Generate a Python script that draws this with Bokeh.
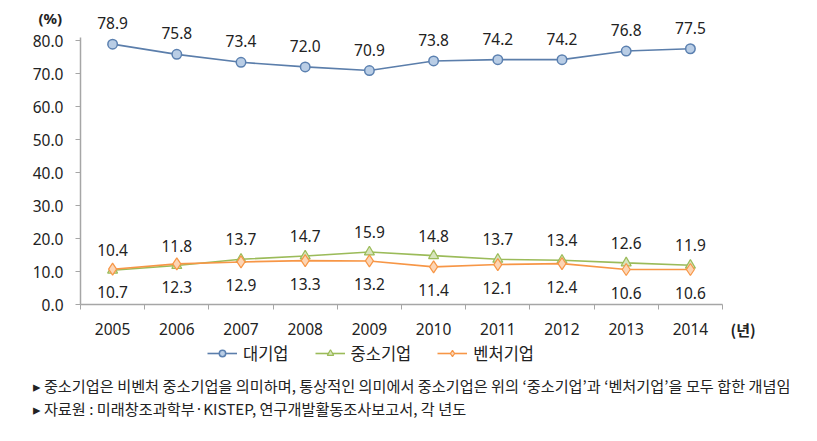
from bokeh.plotting import figure
from bokeh.models import (ColumnDataSource, LabelSet, Label, Legend, LegendItem,
                          FixedTicker, Range1d, PrintfTickFormatter, LinearAxis)
from bokeh.core.properties import value
from bokeh.embed import file_html
from bokeh.resources import INLINE

years = [2005, 2006, 2007, 2008, 2009, 2010, 2011, 2012, 2013, 2014]
large = [78.9, 75.8, 73.4, 72.0, 70.9, 73.8, 74.2, 74.2, 76.8, 77.5]
sme = [10.4, 11.8, 13.7, 14.7, 15.9, 14.8, 13.7, 13.4, 12.6, 11.9]
venture = [10.7, 12.3, 12.9, 13.3, 13.2, 11.4, 12.1, 12.4, 10.6, 10.6]
series_names = ["대기업", "중소기업", "벤처기업"]
y_ticks = [0, 10, 20, 30, 40, 50, 60, 70, 80]
notes = ["▸ 중소기업은 비벤처 중소기업을 의미하며, 통상적인 의미에서 중소기업은 위의 ‘중소기업’과 ‘벤처기업’을 모두 합한 개념임",
         "▸ 자료원 : 미래창조과학부·KISTEP, 연구개발활동조사보고서, 각 년도"]

KR = "Noto Sans CJK KR"
NUM = "Noto Sans"

W, H = 815, 438
PX_X = 64.2          # pixels per year
PX_Y = 3.3           # pixels per percent
X0_PX, Y0_PX = 80, 304   # canvas position of (2004.5, 0)

x_start = 2004.5 - X0_PX / PX_X
x_end = 2004.5 + (W - X0_PX) / PX_X
y_start = -(H - Y0_PX) / PX_Y
y_end = Y0_PX / PX_Y

p = figure(width=W, height=H, min_border=0,
           x_range=Range1d(x_start, x_end), y_range=Range1d(y_start, y_end),
           x_axis_location=None, y_axis_location=None,
           output_backend="svg", toolbar_location=None)
p.outline_line_color = None
p.grid.grid_line_color = None
p.background_fill_color = "white"
p.border_fill_color = "white"

xa = LinearAxis(fixed_location=0, bounds=(2004.5, 2014.5))
xa.ticker = FixedTicker(ticks=years, minor_ticks=[y + 0.5 for y in [2004] + years])
xa.major_tick_line_color = None
xa.major_tick_out = 0
xa.major_tick_in = 0
xa.minor_tick_line_color = "#a6a6a6"
xa.minor_tick_out = 5
xa.minor_tick_in = 0
xa.axis_line_color = "#a6a6a6"
xa.axis_line_width = 1.5
xa.major_label_text_font = NUM
xa.major_label_text_font_size = "15.5px"
xa.major_label_text_color = "#222222"
xa.major_label_standoff = 13
p.add_layout(xa, "below")

ya = LinearAxis(fixed_location=2004.5, bounds=(0, 81))
ya.ticker = FixedTicker(ticks=y_ticks, minor_ticks=[])
ya.formatter = PrintfTickFormatter(format="%.1f")
ya.major_tick_line_color = "#a6a6a6"
ya.major_tick_out = 5
ya.major_tick_in = 0
ya.minor_tick_line_color = None
ya.axis_line_color = "#a6a6a6"
ya.axis_line_width = 1.5
ya.major_label_text_font = NUM
ya.major_label_text_font_size = "15.5px"
ya.major_label_text_color = "#222222"
ya.major_label_standoff = 12
p.add_layout(ya, "left")

src = ColumnDataSource(dict(x=years, large=large, sme=sme, venture=venture,
                            large_t=[f"{v:.1f}" for v in large],
                            sme_t=[f"{v:.1f}" for v in sme],
                            venture_t=[f"{v:.1f}" for v in venture]))

l1 = p.line("x", "large", source=src, line_color="#5b7eab", line_width=1.6)
m1 = p.scatter("x", "large", source=src, marker="circle", size=9.5,
               fill_color="#b9cde5", line_color="#5b80b0", line_width=1.5)
l2 = p.line("x", "sme", source=src, line_color="#9bbb59", line_width=1.6)
m2 = p.scatter("x", "sme", source=src, marker="triangle", size=10,
               fill_color="#d7e4bd", line_color="#9bbb59", line_width=1.2)
l3 = p.line("x", "venture", source=src, line_color="#f79646", line_width=1.6)
m3 = p.scatter("x", "venture", source=src, marker="diamond", size=12,
               fill_color="#fcd5b5", line_color="#f79646", line_width=1.2)

common = dict(source=src, x="x", text_align="center", text_baseline="middle",
              text_font=value(NUM), text_font_size="15.5px", text_color="#222222")
p.add_layout(LabelSet(y="large", text="large_t", y_offset=21, **common))
p.add_layout(LabelSet(y="sme", text="sme_t", y_offset=20, **common))
p.add_layout(LabelSet(y="venture", text="venture_t", y_offset=-23, **common))

p.add_layout(Label(x=2004.03, y=86.7, text="(%)", text_align="center", text_baseline="middle",
                   text_font=NUM, text_font_size="15px", text_font_style="bold",
                   text_color="#222222"))
p.add_layout(Label(x=2014.82, y=-7.6, text="(년)", text_align="center", text_baseline="middle",
                   text_font=KR, text_font_size="15px", text_font_style="bold",
                   text_color="#222222"))

legend = Legend(items=[LegendItem(label=series_names[0], renderers=[l1, m1]),
                       LegendItem(label=series_names[1], renderers=[l2, m2]),
                       LegendItem(label=series_names[2], renderers=[l3, m3])],
                location=(207, 73), orientation="horizontal",
                label_text_font=KR, label_text_font_size="16.5px", label_text_color="#222222",
                glyph_width=30, glyph_height=16, label_standoff=6, spacing=26,
                padding=0, margin=0, border_line_color=None, background_fill_alpha=0)
p.add_layout(legend, "center")

for i, t in enumerate(notes):
    p.add_layout(Label(x=2004.5 - 48 / PX_X, y=-24.5 - 7.0 * i, text=t, text_align="left",
                       text_baseline="middle", text_font=KR, text_font_size="15.2px",
                       text_color="#222222"))

open("out.html", "w").write(file_html(p, INLINE))
